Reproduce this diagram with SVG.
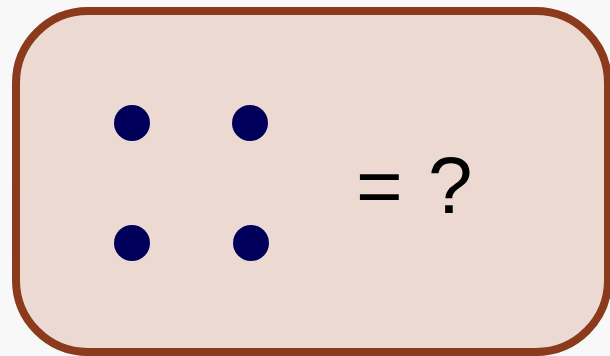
<svg xmlns="http://www.w3.org/2000/svg" width="610" height="356" viewBox="0 0 610 356">
<style>
.dot{fill:#00005a}
.lbl{font-family:"Liberation Sans",Arial,sans-serif;font-size:80px;fill:#000}
</style>
<rect width="610" height="356" fill="#f8f8f8"/>
<g id="box">
<rect x="16" y="11" width="592" height="341" rx="72" ry="72" fill="#ecdad2" stroke="#8b3a1e" stroke-width="8"/>
</g>
<g id="dots">
<circle class="dot" cx="132" cy="123" r="18"/>
<circle class="dot" cx="250" cy="123" r="18"/>
<circle class="dot" cx="132" cy="243" r="18"/>
<circle class="dot" cx="251" cy="243" r="18"/>
</g>
<g id="label">
<text class="lbl" x="356" y="213">=<tspan dx="3"> ?</tspan></text>
</g>
<g id="connectors"></g>
</svg>
